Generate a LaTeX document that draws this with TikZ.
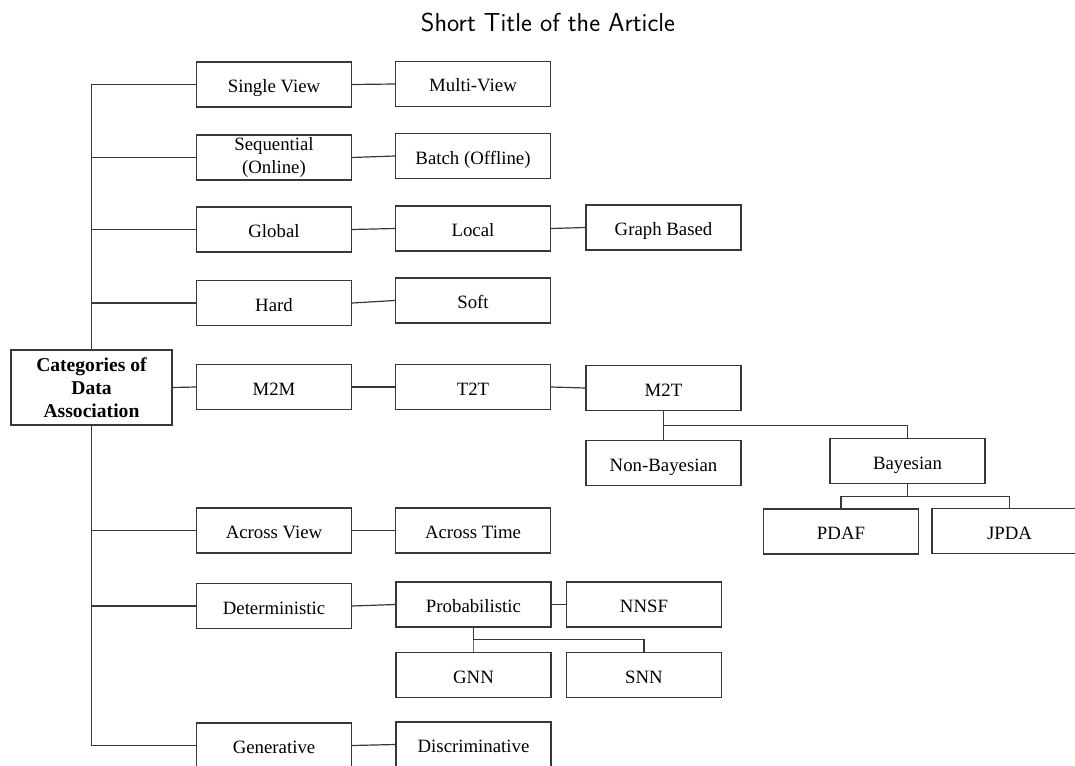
\documentclass[tikz,border=0pt]{standalone}
\usepackage{fontspec}
\setmainfont{Liberation Serif}
\usetikzlibrary{calc}
\definecolor{edge}{gray}{0.22}
\definecolor{tint}{rgb}{0.25,0.45,0.85}
\tikzset{
  boxbase/.style={draw=edge, line width=1.2pt, fill=white, minimum width=155pt,
    minimum height=45pt, inner sep=0pt, align=center,
    font=\fontsize{18.8}{22.5}\selectfont},
  cat/.style={boxbase, text height=16pt, text depth=0pt},
  rootbox/.style={boxbase, minimum width=161pt, minimum height=75pt,
    font=\fontsize{19.6}{23}\selectfont\bfseries},
  link/.style={draw=edge, line width=1.2pt},
}
\begin{document}
\begin{tikzpicture}[x=1pt, y=-1pt]
\useasboundingbox (0,0) rectangle (1075,765);

% running head
\node[anchor=base, font=\sffamily\fontsize{26}{31}\selectfont] (head) at (548,32) {Short Title of the Article};

% root category
\node[rootbox] (root) at (91.5,387.5) {Categories of\\Data\\Association};

% first column
\node[cat] (sv)   at (274,84.5)  {Single View};
\node[boxbase] (seq)  at (274,157.5) {Sequential\\(Online)};
\node[cat] (glob) at (274,229.5) {Global};
\node[cat] (hard) at (274,303)   {Hard};
\node[cat] (m2m)  at (274,387)   {M2M};
\node[cat] (av)   at (274,530.5) {Across View};
\node[cat] (det)  at (274,606)   {Deterministic};
\node[cat] (gen)  at (274,745.5) {Generative};

% second column
\node[cat] (mv)    at (473,84)    {Multi-View};
\node[cat] (batch) at (473,156)   {Batch (Offline)};
\node[cat] (loc)   at (473,228.5) {Local};
\node[cat] (soft)  at (473,300.5) {Soft};
\node[cat] (t2t)   at (473,387)   {T2T};
\node[cat] (at)    at (473,530.5) {Across Time};
\node[cat] (prob)  at (473.5,604.5) {Probabilistic};
\node[cat] (gnn)   at (473.5,675) {GNN};
\node[cat] (disc)  at (473.5,744.5) {Discriminative};

% further levels
\node[cat] (graph) at (663.5,227.5) {Graph Based};
\node[cat] (m2t)   at (663.5,388)   {M2T};
\node[cat] (nb)    at (663.5,463)   {Non-Bayesian};
\node[cat] (bay)   at (907.5,461)   {Bayesian};
\node[cat] (pdaf)  at (841,531.5)   {PDAF};
\node[cat] (jpda)  at (1009.5,531)  {JPDA};
\node[cat] (nnsf)  at (644,604.5)   {NNSF};
\node[cat] (snn)   at (644,675)     {SNN};

% trunk and branches from the root
\draw[link] (root.north) |- (sv.west);
\draw[link] (root.north) |- (seq.west);
\draw[link] (root.north) |- (glob.west);
\draw[link] (root.north) |- (hard.west);
\draw[link] (root.east) -- (m2m.west);
\draw[link] (root.south) |- (av.west);
\draw[link] (root.south) |- (det.west);
\draw[link] (root.south) |- (gen.west);

% horizontal chains
\draw[link] (sv.east) -- (mv.west);
\draw[link] (seq.east) -- (batch.west);
\draw[link] (glob.east) -- (loc.west);
\draw[link] (loc.east) -- (graph.west);
\draw[link] (hard.east) -- (soft.west);
\draw[link] (m2m.east) -- (t2t.west);
\draw[link] (t2t.east) -- (m2t.west);
\draw[link] (av.east) -- (at.west);
\draw[link] (det.east) -- (prob.west);
\draw[link] (prob.east) -- (nnsf.west);
\draw[link] (gen.east) -- (disc.west);

% M2T subtree
\coordinate (j1) at ($(m2t.south)!0.5!(nb.north)$);
\draw[link] (m2t.south) -- (nb.north);
\draw[link] (j1) -| (bay.north);

% Bayesian subtree
\coordinate (j2) at ($(bay.south)!0.5!(bay.south |- pdaf.north)$);
\draw[link] (bay.south) -- (j2);
\draw[link] (pdaf.north) |- (j2) -| (jpda.north);

% Probabilistic subtree
\coordinate (j3) at ($(prob.south)!0.5!(gnn.north)$);
\draw[link] (prob.south) -- (j3) -| (snn.north);
\draw[link, draw=tint] (j3) -- (gnn.north);
\end{tikzpicture}
\end{document}
